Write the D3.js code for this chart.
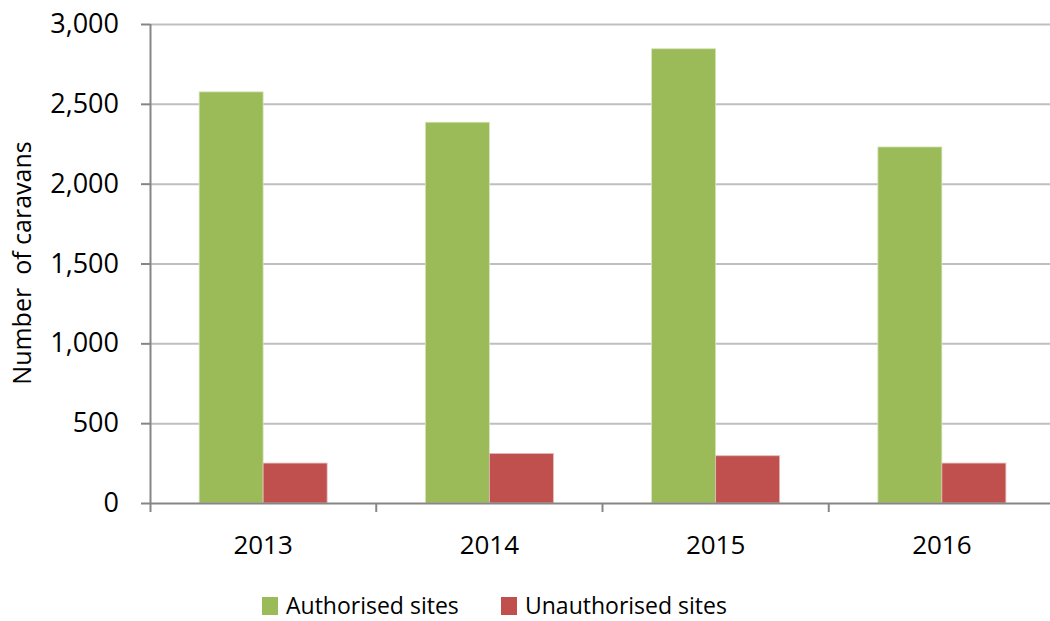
<!DOCTYPE html>
<html>
<head>
<meta charset="utf-8">
<script src="https://cdn.jsdelivr.net/npm/d3@7"></script>
<style>
body { margin: 0; background: #fff; }
svg { font-family: "Open Sans", "Noto Sans", sans-serif; }
</style>
</head>
<body>
<svg id="chart" width="1050" height="621"></svg>
<script>
// values
var years = ["2013", "2014", "2015", "2016"];
var seriesNames = ["Authorised sites", "Unauthorised sites"];
var authorised = [2575, 2385, 2845, 2230];
var unauthorised = [250, 310, 296, 250];
var seriesColors = ["#9BBB59", "#C0504D"];
var yTicks = [0, 500, 1000, 1500, 2000, 2500, 3000];

var svg = d3.select("#chart");

var margin = {top: 24, right: -5, bottom: 118, left: 150},
	width = 1050 - margin.left - margin.right,
	height = 621 - margin.top - margin.bottom;

var g = svg.append("g")
	.attr("transform", "translate(" + margin.left + "," + margin.top + ")");

var xScale = d3.scaleBand()
	.domain(years)
	.range([0, width]);

var yScale = d3.scaleLinear()
	.domain([0, 3000])
	.range([height, 0]);

var innerScale = d3.scaleBand()
	.domain([0, 1])
	.range([0, 128])
	;

// gridlines
g.append("g")
	.selectAll("line")
	.data(yTicks.slice(1))
	.enter()
	.append("line")
	.attr("x1", 0)
	.attr("x2", width)
	.attr("y1", function(d) { return yScale(d) + 0.5; })
	.attr("y2", function(d) { return yScale(d) + 0.5; })
	.attr("stroke", "#BFBFBF")
	.attr("stroke-width", 2);

// bars
var rows = years.map(function(y, i) { return [authorised[i], unauthorised[i]]; });
var groups = g.selectAll(".grp")
	.data(rows)
	.enter()
	.append("g")
	.attr("class", "grp")
	.attr("transform", function(d, i) {
		return "translate(" + (xScale(years[i]) + (xScale.bandwidth() - 128) / 2) + ",0)";
	});

groups.selectAll("rect")
	.data(function(d) { return d; })
	.enter()
	.append("rect")
	.attr("x", function(d, j) { return innerScale(j); })
	.attr("width", innerScale.bandwidth())
	.attr("y", function(d) { return yScale(d); })
	.attr("height", function(d) { return height - yScale(d); })
	.attr("fill", function(d, j) { return seriesColors[j]; })
	.attr("stroke", function(d, j) { return j === 0 ? "#D7E4BD" : "#E6B9B8"; })
	.attr("stroke-width", 0.8);

// y axis
var yax = g.append("g")
	.call(d3.axisLeft(yScale)
		.tickValues(yTicks)
		.tickSize(9)
		.tickPadding(22)
		.tickFormat(d3.format(",")));
yax.select(".domain").attr("stroke", "#868686").attr("stroke-width", 2)
	.attr("d", "M0.5," + (height + 9) + "V0");
yax.selectAll(".tick line").attr("stroke", "#868686").attr("stroke-width", 2);
yax.selectAll("text").attr("font-size", "27px").attr("fill", "#000")
	.attr("font-family", "\"Open Sans\", sans-serif");

// x axis
var xax = g.append("g")
	.attr("transform", "translate(0," + height + ")")
	.call(d3.axisBottom(xScale).tickSize(0).tickPadding(33));
xax.select(".domain").attr("stroke", "#868686").attr("stroke-width", 2).attr("d", "M0,0.5H" + width);
xax.selectAll("text").attr("font-size", "26px").attr("fill", "#000")
	.attr("font-family", "\"Open Sans\", sans-serif");

// category boundary ticks
xax.append("g")
	.selectAll("line")
	.data(years.slice(1))
	.enter()
	.append("line")
	.attr("x1", function(d) { return xScale(d); })
	.attr("x2", function(d) { return xScale(d); })
	.attr("y1", 0)
	.attr("y2", 9)
	.attr("stroke", "#868686")
	.attr("stroke-width", 2);

// y axis title
svg.append("text")
	.attr("transform", "rotate(-90)")
	.attr("x", -263)
	.attr("y", 31)
	.attr("text-anchor", "middle")
	.attr("font-size", "25px")
	.attr("fill", "#000")
	.attr("xml:space", "preserve")
	.style("white-space", "pre")
	.text("Number  of caravans");

// legend
var legendX = [262, 501];
var legend = svg.append("g").selectAll("g")
	.data(seriesNames)
	.enter()
	.append("g")
	.attr("transform", function(d, i) { return "translate(" + legendX[i] + ",597)"; });
legend.append("rect")
	.attr("width", 16)
	.attr("height", 18)
	.attr("fill", function(d, i) { return seriesColors[i]; });
legend.append("text")
	.attr("x", 24)
	.attr("y", 17)
	.attr("font-size", "23px")
	.attr("fill", "#000")
	.text(function(d) { return d; });
</script>
</body>
</html>
